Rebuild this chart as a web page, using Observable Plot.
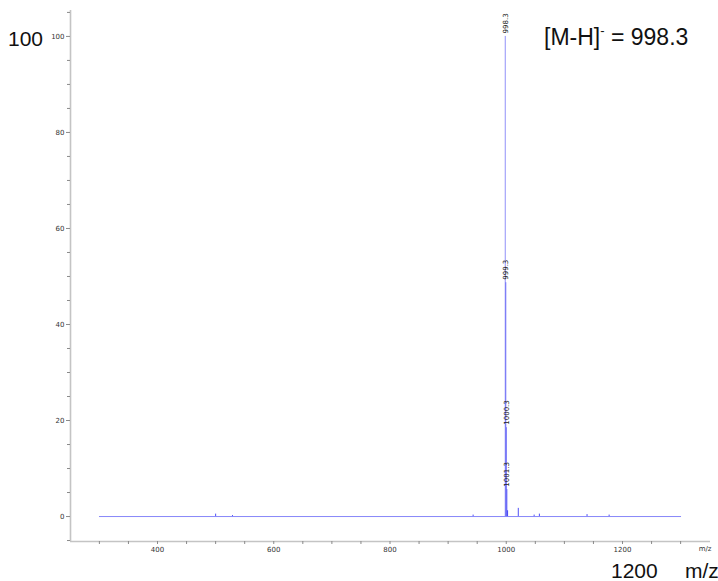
<!DOCTYPE html>
<html>
<head>
<meta charset="utf-8">
<script src="https://cdn.jsdelivr.net/npm/d3@7"></script>
<script src="https://cdn.jsdelivr.net/npm/@observablehq/plot@0.6"></script>
<style>
  html, body { margin: 0; padding: 0; background: #fff; }
  #wrap { position: relative; width: 718px; height: 581px; overflow: hidden; }
  .ann {
    position: absolute;
    font-family: "Liberation Sans", Arial, sans-serif;
    font-size: 21px;
    line-height: 21px;
    color: #111;
    white-space: nowrap;
  }
  .ann.ion { font-size: 23px; line-height: 23px; }
  .ann sup { font-size: 13px; vertical-align: 10px; line-height: 0; }
</style>
</head>
<body>
<div id="wrap">
  <div id="chart"></div>
  <div class="ann" style="left:8px; top:28px;">100</div>
  <div class="ann ion" style="left:544px; top:26px;">[M-H]<sup>-</sup> = 998.3</div>
  <div class="ann" style="left:611px; top:560px;">1200</div>
  <div class="ann" style="left:685px; top:560px;">m/z</div>
</div>
<script>
// Axis extents and ticks
const xDomain = [250.3, 1351.4];
const yDomain = [-5.2, 105.4];
const xMajorTicks = [400, 600, 800, 1000, 1200];
const xMinorTicks = [300, 350, 450, 500, 550, 650, 700, 750, 850, 900, 950, 1050, 1100, 1150, 1250, 1300];
const yMajorTicks = [0, 20, 40, 60, 80, 100];
const yMinorTicks = [-5, 5, 10, 15, 25, 30, 35, 45, 50, 55, 65, 70, 75, 85, 90, 95, 105];

// Labelled isotope peaks (m/z, relative intensity %)
const peakMz = [998.3, 999.3, 1000.3, 1001.3];
const peakIntensity = [100, 48.7, 18.5, 5.6];
const peakLabels = ["998.3", "999.3", "1000.3", "1001.3"];

// Small unlabelled peaks
const minorMz = [500, 529, 943, 1002.3, 1020.7, 1048, 1057, 1139, 1177];
const minorIntensity = [0.5, 0.2, 0.3, 1.2, 1.7, 0.3, 0.5, 0.4, 0.3];

// Acquisition range baseline
const baselineMz = [300, 1300];
const baselineIntensity = [0, 0];

const peaks = peakMz.map((mz, i) => ({mz, intensity: peakIntensity[i], label: peakLabels[i]}));
const minor = minorMz.map((mz, i) => ({mz, intensity: minorIntensity[i]}));
const baseline = baselineMz.map((mz, i) => ({mz, intensity: baselineIntensity[i]}));

const traceColor = "#2424f4";
const axisLine = "#c4c4c4";
const tickColor = "#8a8a8a";
const plain = d3.format("d");

const chart = Plot.plot({
  width: 718,
  height: 581,
  marginLeft: 70,
  marginRight: 8,
  marginTop: 10,
  marginBottom: 40,
  x: {domain: xDomain},
  y: {domain: yDomain},
  style: {fontFamily: "'DejaVu Sans', Verdana, sans-serif", fontSize: "7px", color: "#333", background: "#fff", overflow: "visible"},
  marks: [
    // axis lines
    Plot.ruleX([xDomain[0]], {stroke: axisLine, strokeWidth: 1.6}),
    Plot.ruleY([yDomain[0]], {stroke: axisLine, strokeWidth: 1.6}),
    // y axis
    Plot.axisY({ticks: yMajorTicks, tickFormat: plain, tickSize: 4, tickPadding: 2, stroke: tickColor, fill: "#333", label: null, fontSize: 7}),
    Plot.axisY({ticks: yMinorTicks, tickSize: 3, text: null, stroke: tickColor, label: null}),
    // x axis
    Plot.axisX({ticks: xMajorTicks, tickFormat: plain, tickSize: 3, tickPadding: 3, stroke: tickColor, fill: "#333", label: null, fontSize: 7}),
    Plot.axisX({ticks: xMinorTicks, tickSize: 3, text: null, stroke: tickColor, label: null}),
    Plot.text(["m/z"], {frameAnchor: "bottom-right", textAnchor: "end", lineAnchor: "top", dx: 1, dy: 5, fontSize: 7, fill: "#333"}),
    // spectrum
    Plot.line(baseline, {x: "mz", y: "intensity", stroke: traceColor, strokeWidth: 1, strokeOpacity: 0.55}),
    Plot.ruleX(minor, {x: "mz", y1: 0, y2: "intensity", stroke: traceColor, strokeWidth: 1, strokeOpacity: 0.8}),
    Plot.ruleX(peaks, {x: "mz", y1: 0, y2: "intensity", stroke: traceColor, strokeWidth: 1, strokeOpacity: 0.5}),
    // peak labels
    Plot.text(peaks, {x: "mz", y: "intensity", text: "label", rotate: -90, textAnchor: "start", dy: -3, fontSize: 7, fill: "#222"})
  ]
});
document.getElementById("chart").appendChild(chart);
</script>
</body>
</html>
